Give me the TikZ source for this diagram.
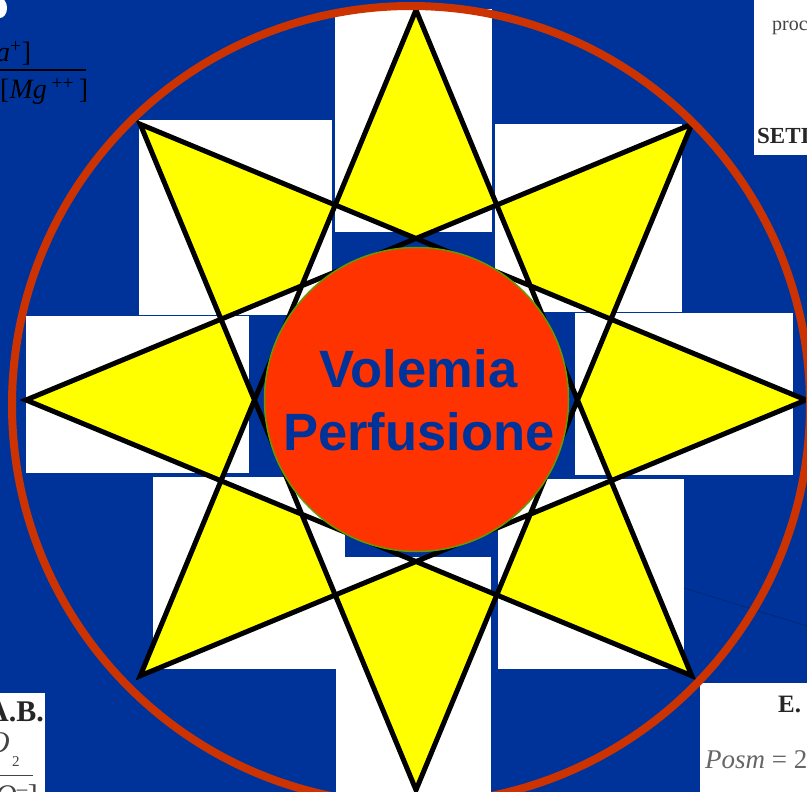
\documentclass[tikz,border=0pt]{standalone}
\usepackage{fontspec}
\setmainfont{Liberation Serif}
\newfontfamily\labelsans{Liberation Sans}
\definecolor{bgblue}{HTML}{003399}
\definecolor{ringred}{HTML}{CC3300}
\definecolor{corered}{HTML}{FF3300}
\definecolor{txtblue}{HTML}{003399}
\definecolor{rimgreen}{HTML}{669900}
\definecolor{staryellow}{HTML}{FFFF00}
\definecolor{scangray}{HTML}{444444}
\begin{document}
\begin{tikzpicture}[x=1pt,y=-1pt,
  whitebox/.style={fill=white,draw=none},
  kite/.style={fill=staryellow,draw=none},
  starline/.style={draw=black,line width=5pt,line join=miter},
  scantext/.style={inner sep=0pt,text=scangray},
  centretext/.style={inner sep=0pt,text=txtblue,font=\labelsans\bfseries\fontsize{52.5}{63}\selectfont}]
\useasboundingbox (0,0) rectangle (807,792);
\clip (0,0) rectangle (807,792);
% background
\fill[bgblue] (0,0) rectangle (807,792);
% white picture pieces behind the star
\fill[whitebox] (335,9) rectangle (492,232);
\fill[whitebox] (139,120) rectangle (332,315);
\fill[whitebox] (495,124) rectangle (682,312);
\fill[whitebox] (26,316) rectangle (249,473);
\fill[whitebox] (575,313) rectangle (793,475);
\fill[whitebox] (153,477) rectangle (345,669);
\fill[whitebox] (336,557) rectangle (491,792);
\fill[whitebox] (498,479) rectangle (684,669);
% corner fragments
\fill[whitebox] (754,0) rectangle (807,155);
\fill[whitebox] (0,693) rectangle (45,792);
\fill[whitebox] (700,683) rectangle (807,792);
\fill[white] (0,8) ellipse[x radius=7pt,y radius=10pt];
% top-left formula fragment
\node[anchor=base west,inner sep=0pt,font=\fontsize{28}{32}\selectfont] (numtl) at (-4,62) {\textit{a}\textsuperscript{+}]};
\coordinate (barl) at (0,70);
\coordinate (barr) at (86,70);
\draw[black,line width=1.6pt] (barl) -- (barr);
\node[anchor=base west,inner sep=0pt,font=\fontsize{28}{32}\selectfont] (dentl) at (0,99) {[\textit{Mg}\,\textsuperscript{++}\,]};
% top-right fragment
\node[scantext,anchor=base west,font=\fontsize{20}{24}\selectfont] (proc) at (772,31) {proc};
\node[scantext,anchor=base west,font=\bfseries\fontsize{23}{26}\selectfont,text=black!85] (seti) at (757,143) {SETI};
% bottom-left fragment
\node[scantext,anchor=base east,font=\bfseries\fontsize{30}{34}\selectfont,text=black!85] (ab) at (44,721) {A.B.};
\node[scantext,anchor=base east,font=\itshape\fontsize{30}{34}\selectfont] (oxy) at (10,752) {O};
\node[scantext,anchor=base west,font=\fontsize{15}{18}\selectfont] (oxysub) at (12,766) {2};
\coordinate (bbl) at (0,775);
\coordinate (bbr) at (33,775);
\draw[scangray,line width=1pt] (bbl) -- (bbr);
\node[scantext,anchor=base east,font=\fontsize{30}{34}\selectfont] (oxyden) at (38,805) {\textit{O}\textsuperscript{--}]};
% bottom-right fragment
\node[scantext,anchor=base west,font=\bfseries\fontsize{25}{28}\selectfont,text=black!85] (eref) at (778,712) {E.};
\node[scantext,anchor=base west,font=\fontsize{27}{30}\selectfont,text=black!60] (posm) at (705,768) {\textit{Posm} = 2};
\coordinate (fa) at (684,588);
\coordinate (fb) at (807,626);
\draw[bgblue!70!black,line width=1pt,opacity=0.6] (fa) -- (fb);
% star vertices
\foreach \i in {0,...,7}
  \coordinate (v\i) at ({416+390*cos(90-45*\i)},{400-390*sin(90-45*\i)});
% yellow tips (kites of the {8/3} star)
\foreach \t in {0,45,...,315}
  \fill[kite,shift={(416,400)}] (\t:390) -- (\t+22.5:211.1) -- (\t:161.5) -- (\t-22.5:211.1) -- cycle;
% star outline
\draw[starline] (v0) -- (v3) -- (v6) -- (v1) -- (v4) -- (v7) -- (v2) -- (v5) -- cycle;
% outer ring
\node[circle,draw=ringred,line width=8pt,minimum size=798pt,inner sep=0pt] (ring) at (411,405) {};
% core
\node[circle,fill=corered,draw=rimgreen,line width=1.5pt,minimum size=304pt,inner sep=0pt] (core) at (416.5,399.5) {};
\node[centretext,anchor=base] (l1) at (418.5,387) {Volemia};
\node[centretext,anchor=base] (l2) at (419,450) {Perfusione};
\end{tikzpicture}
\end{document}
